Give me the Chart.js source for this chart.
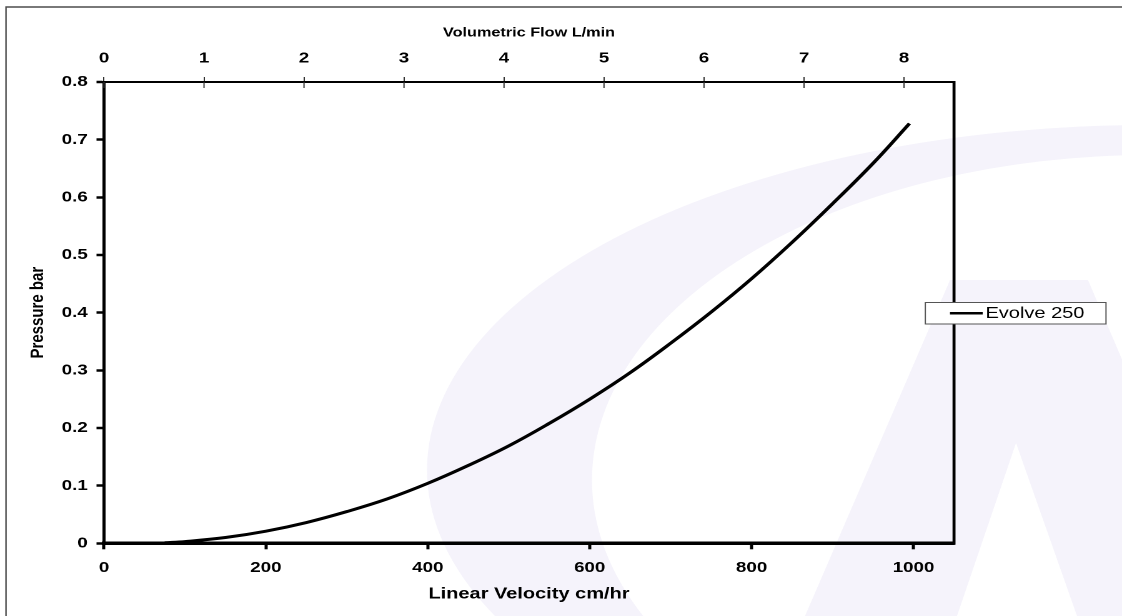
<!DOCTYPE html>
<html>
<head>
<meta charset="utf-8">
<title>Evolve 250 pressure curve</title>
<script src="https://cdn.jsdelivr.net/npm/chart.js@4.4.1/dist/chart.umd.min.js"></script>
<style>
  html, body { margin: 0; padding: 0; background: #fff; overflow: hidden; }
  #wrap { width: 1122px; height: 616px; position: relative; overflow: hidden; }
  #chart { transform-origin: 0 0; display: block; }
</style>
</head>
<body>
<div id="wrap"><canvas id="chart" width="898" height="616"></canvas></div>
<script>
// values
const velocity = [75, 100, 150, 200, 250, 300, 350, 400, 450, 500, 550, 600, 650, 700, 750, 800, 850, 900, 950, 995];
const pressure = [0.001, 0.003, 0.010, 0.021, 0.036, 0.055, 0.077, 0.104, 0.135, 0.169, 0.208, 0.250, 0.296, 0.347, 0.401, 0.459, 0.522, 0.589, 0.659, 0.728];
const seriesName = 'Evolve 250';

const velocityTicks = [0, 200, 400, 600, 800, 1000];
const flowTicks = [0, 1, 2, 3, 4, 5, 6, 7, 8];
const pressureTicks = [0, 0.1, 0.2, 0.3, 0.4, 0.5, 0.6, 0.7, 0.8];
const pressureLabels = ['0', '0.1', '0.2', '0.3', '0.4', '0.5', '0.6', '0.7', '0.8'];

const W = 898, H = 616;
const S = 1122 / W; // the original picture is stretched sideways
document.getElementById('chart').style.transform = 'scaleX(' + S + ')';

const FONT = '"Liberation Sans", Arial, sans-serif';
const tickFont = { family: FONT, size: 15, weight: 'bold' };

// watermark + outer frame, drawn in picture coordinates
const backdrop = {
  id: 'backdrop',
  beforeDraw(chart) {
    const ctx = chart.ctx;
    ctx.save();
    ctx.scale(1 / S, 1);
    ctx.fillStyle = '#f5f3fb';
    // swoosh
    ctx.beginPath();
    ctx.ellipse(1150, 470, 723, 345, 0, 0, Math.PI * 2);
    ctx.moveTo(1150 + 558, 480);
    ctx.ellipse(1150, 480, 558, 325, 0, 0, Math.PI * 2);
    ctx.fill('evenodd');
    // the "A"
    ctx.beginPath();
    ctx.moveTo(950, 280); ctx.lineTo(1088, 280); ctx.lineTo(1232, 616); ctx.lineTo(805, 616); ctx.closePath();
    ctx.moveTo(1016, 443); ctx.lineTo(1077, 616); ctx.lineTo(957, 616); ctx.closePath();
    ctx.fill('evenodd');
    // outer frame
    ctx.strokeStyle = '#4d4d4d';
    ctx.lineWidth = 1.5;
    ctx.strokeRect(6, 7, 1300, 800);
    ctx.restore();
  }
};

const frame = {
  id: 'frame',
  afterDraw(chart) {
    const { ctx, chartArea } = chart;
    const top = chart.scales.x2;
    ctx.save();
    // right side of the plot box
    ctx.strokeStyle = '#000';
    ctx.lineWidth = 2.4;
    ctx.beginPath();
    ctx.moveTo(chartArea.right, chartArea.top - 1);
    ctx.lineTo(chartArea.right, chartArea.bottom + 1.5);
    ctx.stroke();
    // top axis ticks cross into the plot
    ctx.lineWidth = 1;
    ctx.strokeStyle = '#333';
    top.ticks.forEach(t => {
      const x = top.getPixelForValue(t.value);
      ctx.beginPath();
      ctx.moveTo(x, chartArea.top);
      ctx.lineTo(x, chartArea.top + 6);
      ctx.stroke();
    });
    // legend box
    const ds = chart.data.datasets[0];
    const bx = 925.3 / S, bw = (1106 - 925.3) / S, by = 302.5, bh = 21.5;
    ctx.fillStyle = '#fff';
    ctx.fillRect(bx, by, bw, bh);
    ctx.strokeStyle = '#555';
    ctx.lineWidth = 1;
    ctx.strokeRect(bx, by, bw, bh);
    ctx.strokeStyle = ds.borderColor;
    ctx.lineWidth = 2.5;
    ctx.beginPath();
    ctx.moveTo(950 / S, by + bh / 2);
    ctx.lineTo(982.7 / S, by + bh / 2);
    ctx.stroke();
    ctx.fillStyle = '#000';
    ctx.font = '16px ' + FONT;
    ctx.textBaseline = 'middle';
    ctx.textAlign = 'left';
    ctx.fillText(ds.label, 985.5 / S, by + bh / 2 + 0.5);
    ctx.restore();
  }
};

new Chart(document.getElementById('chart'), {
  type: 'line',
  data: {
    datasets: [{
      label: seriesName,
      data: velocity.map((v, i) => ({ x: v, y: pressure[i] })),
      borderColor: '#000',
      borderWidth: 3,
      pointRadius: 0,
      tension: 0.4,
      fill: false,
      xAxisID: 'x',
      yAxisID: 'y'
    }]
  },
  options: {
    responsive: false,
    animation: false,
    devicePixelRatio: 2,
    layout: { padding: { left: 0, right: W - 954 / S, top: 0, bottom: 0 } },
    plugins: { legend: { display: false }, tooltip: { enabled: false } },
    scales: {
      x: {
        type: 'linear',
        position: 'bottom',
        min: 0,
        max: 1050,
        afterBuildTicks: s => { s.ticks = velocityTicks.map(v => ({ value: v })); },
        afterFit: s => { s.height = H - 543.3; },
        grid: { drawOnChartArea: false, drawTicks: true, tickLength: 6, tickWidth: 2.5, tickColor: '#000' },
        border: { display: true, color: '#000', width: 3.5 },
        ticks: { font: tickFont, color: '#000', padding: 9.5, maxRotation: 0, autoSkip: false, callback: v => String(v) },
        title: { display: true, text: 'Linear Velocity cm/hr', color: '#000',
                 font: { family: FONT, size: 16, weight: 'bold' }, padding: { top: 0, bottom: 12.4 } }
      },
      x2: {
        type: 'linear',
        position: 'top',
        display: true,
        min: 0,
        max: 8.5,
        afterBuildTicks: s => { s.ticks = flowTicks.map(v => ({ value: v })); },
        afterFit: s => { s.height = 82; },
        grid: { drawOnChartArea: false, drawTicks: true, tickLength: 5, tickWidth: 1, tickColor: '#333' },
        border: { display: true, color: '#000', width: 2 },
        ticks: { font: tickFont, color: '#000', padding: 9.5, maxRotation: 0, autoSkip: false, callback: v => String(v) },
        title: { display: true, text: 'Volumetric Flow L/min', color: '#000',
                 font: { family: FONT, size: 13, weight: 'bold' }, padding: { top: 25.2, bottom: 0 } }
      },
      y: {
        type: 'linear',
        position: 'left',
        min: 0,
        max: 0.8,
        afterBuildTicks: s => { s.ticks = pressureTicks.map(v => ({ value: v })); },
        afterFit: s => { s.width = 104 / S; },
        grid: { drawOnChartArea: false, drawTicks: true, tickLength: 6, tickWidth: 2.5, tickColor: '#000' },
        border: { display: true, color: '#000', width: 2.5 },
        ticks: { font: tickFont, color: '#000', padding: 7, autoSkip: false, callback: (v, i) => pressureLabels[i] },
        title: { display: true, text: 'Pressure bar', color: '#000',
                 font: { family: FONT, size: 15, weight: 'bold' }, padding: { top: 21.4, bottom: 0 } }
      }
    }
  },
  plugins: [backdrop, frame]
});
</script>
</body>
</html>
